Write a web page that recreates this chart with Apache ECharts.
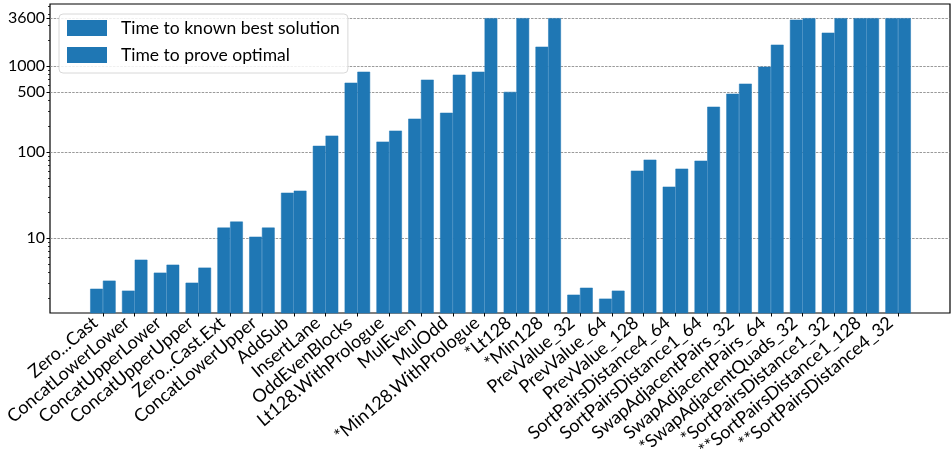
<!DOCTYPE html>
<html>
<head>
<meta charset="utf-8">
<script src="https://cdn.jsdelivr.net/npm/echarts@6/dist/echarts.min.js"></script>
<style>
  html, body { margin: 0; padding: 0; background: #fff; }
  #chart { width: 951px; height: 452px; }
</style>
</head>
<body>
<div id="chart"></div>
<script>
// Benchmark names (one pair of bars per kernel)
const categories = [
  'Zero...Cast', 'ConcatLowerLower', 'ConcatUpperLower', 'ConcatUpperUpper',
  'Zero...Cast.Ext', 'ConcatLowerUpper', 'AddSub', 'InsertLane',
  'OddEvenBlocks', 'Lt128.WithPrologue', 'MulEven', 'MulOdd',
  '*Min128.WithPrologue', '*Lt128', '*Min128', 'PrevValue_32',
  'PrevValue_64', 'PrevValue_128', 'SortPairsDistance4_64', 'SortPairsDistance1_64',
  'SwapAdjacentPairs_32', 'SwapAdjacentPairs_64', '*SwapAdjacentQuads_32',
  '*SortPairsDistance1_32', '**SortPairsDistance1_128', '**SortPairsDistance4_32'
];

// Seconds until the best known solution was found
const timeToBest = [
  2.57, 2.44, 3.95, 3.02, 13.2, 10.35, 33.6, 118,
  639, 132, 244, 286, 858, 500, 1676, 2.19,
  1.97, 60.6, 39.5, 79.2, 476, 981, 3455, 2439, 3600, 3600
];

// Seconds until optimality was proven (3600 = timeout)
const timeToOptimal = [
  3.19, 5.59, 4.89, 4.52, 15.5, 13.2, 35.5, 155,
  858, 177, 693, 792, 3600, 3600, 3600, 2.64,
  2.44, 81.4, 64.0, 336, 623, 1769, 3600, 3600, 3600, 3600
];

const yTicks = [10, 100, 500, 1000, 3600];
const yMinorTicks = [2, 3, 4, 5, 6, 7, 8, 9, 20, 30, 40, 50, 60, 70, 80, 90,
  200, 300, 400, 600, 700, 800, 900, 2000, 3000, 4000, 5000];

const yMin = 1.342, yMax = 5260;
const FONT = 'Lato';
const BLUE = '#1f77b4';

const chart = echarts.init(document.getElementById('chart'), null, { renderer: 'canvas' });

chart.setOption({
  animation: false,
  textStyle: { fontFamily: FONT },
  grid: [
    // frame with the y scale and grid lines
    {
      left: 50, right: 1, top: 4, bottom: 139, outerBoundsMode: 'none', containLabel: false,
      show: true, borderColor: '#000', borderWidth: 1.2, backgroundColor: 'transparent'
    },
    // plotting band for the bars
    { left: 87, right: 37, top: 4, bottom: 139, outerBoundsMode: 'none', containLabel: false }
  ],
  legend: {
    left: 59, top: 14,
    orient: 'vertical',
    padding: [4, 8, 8, 8],
    itemWidth: 38, itemHeight: 14, itemGap: 7,
    backgroundColor: 'rgba(255,255,255,0.85)',
    borderColor: '#d8d8d8', borderWidth: 1, borderRadius: 4,
    icon: 'rect',
    textStyle: { fontFamily: FONT, fontSize: 17.5, lineHeight: 20, color: '#000', padding: [0, 0, 0, 10] },
    data: ['Time to known best solution', 'Time to prove optimal']
  },
  xAxis: [
    { gridIndex: 0, type: 'value', show: false, min: 0, max: 1 },
    {
      gridIndex: 1, type: 'category', data: categories,
      axisLine: { show: false },
      axisTick: { show: true, alignWithLabel: true, length: 3.5, lineStyle: { color: '#000' } },
      axisLabel: {
        rotate: 40, interval: 0, margin: 1, padding: [0, 10, 0, 0],
        fontFamily: FONT, fontSize: 18, color: '#000'
      },
      splitLine: { show: false }
    }
  ],
  yAxis: [
    {
      gridIndex: 0, type: 'log', logBase: 10, min: yMin, max: yMax,
      axisLine: { show: false },
      axisTick: { show: true, length: 3.5, customValues: yTicks, lineStyle: { color: '#000' } },
      axisLabel: {
        customValues: yTicks, margin: 5, fontFamily: FONT, fontSize: 16, color: '#000',
        formatter: (v) => String(Math.round(v))
      },
      splitLine: { show: true, lineStyle: { color: '#808080', width: 0.8, type: [2.5, 1.2] } }
    },
    {
      gridIndex: 1, type: 'log', logBase: 10, min: yMin, max: yMax, show: false,
      splitLine: { show: false }
    },
    {
      // minor log ticks on the left spine
      gridIndex: 0, type: 'log', logBase: 10, min: yMin, max: yMax, position: 'left',
      axisLine: { show: false },
      axisTick: { show: true, length: 2, customValues: yMinorTicks, lineStyle: { color: '#000', width: 0.8 } },
      axisLabel: { show: false },
      splitLine: { show: false }
    }
  ],
  series: [
    {
      name: 'Time to known best solution', type: 'bar',
      xAxisIndex: 1, yAxisIndex: 1,
      data: timeToBest, barWidth: '40%', barGap: '0%',
      itemStyle: { color: BLUE, borderColor: BLUE, borderWidth: 0.5 }
    },
    {
      name: 'Time to prove optimal', type: 'bar',
      xAxisIndex: 1, yAxisIndex: 1,
      data: timeToOptimal, barWidth: '40%', barGap: '0%',
      itemStyle: { color: BLUE, borderColor: BLUE, borderWidth: 0.5 }
    }
  ]
});
</script>
</body>
</html>
